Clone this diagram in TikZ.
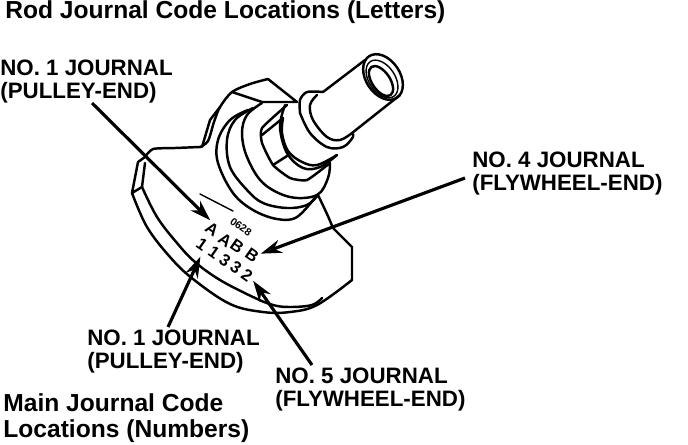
\documentclass[tikz,border=0pt]{standalone}
\usepackage{fontspec}
\setmainfont{Liberation Sans}
\usepackage{tikz}
\usetikzlibrary{arrows.meta}

\tikzset{
  outline/.style={line width=1.4pt, line join=round, line cap=round},
  thinline/.style={line width=0.8pt, line cap=round},
  pointer/.style={-{Stealth[length=0.42cm, width=0.27cm]}, line width=1.8pt},
  callout/.style={anchor=north west, inner sep=0, align=left, font=\bfseries\fontsize{12.7}{13}\selectfont},
  heading/.style={anchor=north west, inner sep=0, align=left, font=\bfseries\fontsize{14}{14.7}\selectfont},
  stamp/.style={rotate=-35, inner sep=0, font=\bfseries\fontsize{9.5}{9.5}\selectfont}
}

\begin{document}
\begin{tikzpicture}[x=0.02cm, y=-0.02cm]

  \useasboundingbox (0, 0) rectangle (688, 444);

  % casting
  \draw[outline] plot [smooth, tension=0.4] coordinates { (145,157) (153,149) (175,148) (200,147) };
  \draw[outline] plot [smooth, tension=0.5] coordinates { (200,147) (208,141) (214,122) (220,107) (232,92) (250,84) (268,79) };
  \draw[outline] (268,79) -- (297,102) -- (262,102) -- (232,92);
  \draw[outline] (220,107) -- (210,120) -- (202,147);
  \draw[outline] (145,157) -- (138,162) -- (132,193) -- (142,187) -- (145,163);

  % rim
  \draw[outline] plot [smooth, tension=0.6] coordinates { (132,193) (147,227) (170,257) (193,279) (230,304) (263,312) (290,312) (317,305) (352,280) };
  \draw[outline] plot [smooth, tension=0.6] coordinates { (142,187) (157,217) (177,243) (195,262) (220,280) (253,297) (273,305) (290,307) (312,305) (322,298) };
  \draw[outline] (352,280) -- (352,247) -- (333,228);
  \draw[outline] plot [smooth, tension=0.6] coordinates { (333,228) (327,214) (318,195) };

  % rings
  \draw[outline] plot [smooth, tension=0.6] coordinates { (248,110) (230,120) (218,140) (218,163) (233,193) (253,210) (277,219) (297,217) (317,195) };
  \draw[outline] plot [smooth, tension=0.6] coordinates { (253,108) (235,120) (227,140) (230,167) (247,190) (263,203) (287,208) (307,205) (318,195) };
  \draw[outline] plot [smooth, tension=0.6] coordinates { (262,103) (247,115) (242,133) (247,157) (263,183) (290,197) (317,195) (328,178) (330,163) };

  % nut
  \draw[outline] plot [smooth, tension=0.3] coordinates { (287,105) (262,128) (262,143) (273,165) (290,178) (307,180) (330,163) };
  \draw[outline] (262,135) -- (283,118);
  \draw[outline] (273,165) -- (287,156);
  \draw[outline] plot [smooth, tension=0.6] coordinates { (285,105) (280,127) (287,153) (303,168) (320,167) (337,155) };
  \draw[outline] plot [smooth, tension=0.6] coordinates { (283,118) (282,133) (288,151) (302,162) (317,165) (337,155) };

  % shaft
  \draw[outline] plot [smooth, tension=0.5] coordinates { (300,113) (300,100) (307,92) (323,92) };
  \draw[outline] plot [smooth, tension=0.6] coordinates { (300,113) (310,133) (327,147) (343,147) (353,137) (352,133) };
  \draw[outline] plot [smooth, tension=0.6] coordinates { (317,95) (310,105) (313,120) (327,137) (340,140) (352,133) };
  \draw[outline] (323,92) -- (365,60);
  \draw[outline] (352,133) -- (400,95);
  \draw[outline, shift={(383,77)}, rotate=-56] (0, 0) ellipse (25 and 17);
  \draw[thinline, shift={(382,79)}, rotate=-56] (0, 0) ellipse (21 and 13);
  \draw[outline, shift={(381,81)}, rotate=-56] (0, 0) ellipse (17 and 9);

  \draw[thinline] (200,194) -- (233,211);

  % stamped codes
  \node[stamp, font=\bfseries\fontsize{6}{6}\selectfont] (lotcode) at (241,227) {0628};
  \node[stamp] (lettera) at (212,229) {A};
  \node[stamp] (letterb) at (225,240) {A};
  \node[stamp] (letterc) at (237,246) {B};
  \node[stamp] (letterd) at (252,255) {B};
  \node[stamp] (numa) at (202,244) {1};
  \node[stamp] (numb) at (214,252) {1};
  \node[stamp] (numc) at (225,260) {3};
  \node[stamp] (numd) at (236,267) {3};
  \node[stamp] (nume) at (247,275) {2};

  % labels
  \node[heading] (title) at (5, 0) {Rod Journal Code Locations (Letters)};
  \node[callout] (pulleytop) at (0, 60) {NO. 1 JOURNAL\\(PULLEY-END)};
  \node[callout] (flywheeltop) at (472, 152) {NO. 4 JOURNAL\\(FLYWHEEL-END)};
  \node[callout] (pulleylow) at (87, 330) {NO. 1 JOURNAL\\(PULLEY-END)};
  \node[callout] (flywheellow) at (275, 368) {NO. 5 JOURNAL\\(FLYWHEEL-END)};
  \node[heading] (mainlabel) at (3, 393.5) {Main Journal Code\\Locations (Numbers)};

  % pointers
  \coordinate (starta) at (92, 103);
  \coordinate (startb) at (465, 178);
  \coordinate (startc) at (168, 327);
  \coordinate (startd) at (312, 365);
  \draw[pointer] (starta) -- (lettera.north west);
  \draw[pointer] (startb) -- (letterd.north east);
  \draw[pointer, shorten >=3pt] (startc) -- (numa.south east);
  \draw[pointer, shorten >=2pt] (startd) -- (nume.east);

\end{tikzpicture}
\end{document}
